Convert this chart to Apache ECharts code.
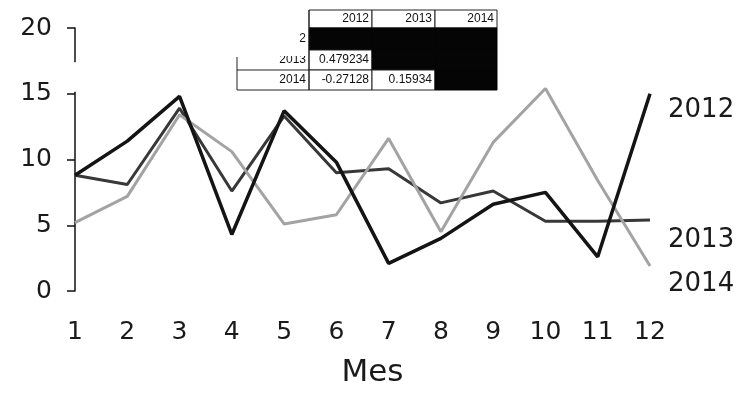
<!DOCTYPE html>
<html>
<head>
<meta charset="utf-8">
<script src="https://cdn.jsdelivr.net/npm/echarts@6/dist/echarts.min.js"></script>
<style>
html,body{margin:0;padding:0;background:#fff;}
#chart{width:745px;height:393px;}
</style>
</head>
<body>
<div id="chart"></div>
<script>
// ---- data ----
const months = ['1','2','3','4','5','6','7','8','9','10','11','12'];
const yTicks = [0, 5, 10, 15, 20];
const s2012 = [8.8, 11.4, 14.8, 4.3, 13.7, 9.8, 2.1, 4.0, 6.6, 7.5, 2.6, 15.0];
const s2013 = [8.8, 8.1, 13.9, 7.6, 13.3, 9.0, 9.3, 6.7, 7.6, 5.3, 5.3, 5.4];
const s2014 = [5.2, 7.2, 13.4, 10.6, 5.1, 5.8, 11.6, 4.5, 11.3, 15.4, 8.4, 1.9];
const seriesNames = ['2012', '2013', '2014'];
// correlation table
const corrHeaders = ['2012', '2013', '2014'];
const corrRows = ['2012', '2013', '2014'];
const corrValues = [
  [null, null, null],
  ['0.479234', null, null],
  ['-0.27128', '0.15934', null]
];

const chart = echarts.init(document.getElementById('chart'));
const FONT = 'DejaVu Sans';

function mkSeries(name, data, color, width, dy) {
  return {
    name: name, type: 'line', data: data, symbol: 'none',
    lineStyle: {color: color, width: width},
    endLabel: {show: true, formatter: name, color: '#1a1a1a', fontSize: 26,
      fontFamily: FONT, distance: 18, offset: [0, dy]},
    z: name === '2012' ? 4 : 3
  };
}

// table graphic
function buildTable() {
  const colX = [309, 372, 435, 497];
  const labelX = 237;
  const rowY = [[28, 50], [50, 70], [70, 90]];
  const headY = [10, 28];
  const els = [];
  const tf = {fontSize: 12, fontFamily: 'Liberation Sans', fill: '#111'};
  corrHeaders.forEach((h, j) => {
    els.push({type: 'rect', shape: {x: colX[j], y: headY[0], width: colX[j+1]-colX[j], height: headY[1]-headY[0]},
      style: {fill: '#fff', stroke: '#222', lineWidth: 1}});
    els.push({type: 'text', x: colX[j+1]-3, y: (headY[0]+headY[1])/2,
      style: Object.assign({text: h, align: 'right', verticalAlign: 'middle'}, tf)});
  });
  corrRows.forEach((r, i) => {
    const y0 = rowY[i][0], y1 = rowY[i][1];
    corrValues[i].forEach((v, j) => {
      if (v === null) {
        els.push({type: 'rect', shape: {x: colX[j], y: y0, width: colX[j+1]-colX[j], height: y1-y0},
          style: {fill: '#050505', stroke: '#050505', lineWidth: 1}});
      } else {
        els.push({type: 'rect', shape: {x: colX[j], y: y0, width: colX[j+1]-colX[j], height: y1-y0},
          style: {fill: '#fff', stroke: '#222', lineWidth: 1}});
        els.push({type: 'text', x: colX[j+1]-3, y: (y0+y1)/2,
          style: Object.assign({text: v, align: 'right', verticalAlign: 'middle'}, tf)});
      }
    });
    els.push({type: 'text', x: colX[0]-3, y: (y0+y1)/2,
      style: Object.assign({text: r, align: 'right', verticalAlign: 'middle'}, tf)});
  });
  els.push({type: 'line', shape: {x1: labelX, y1: 57, x2: labelX, y2: 90}, style: {stroke: '#222', lineWidth: 1}});
  els.push({type: 'line', shape: {x1: labelX, y1: 70, x2: colX[0], y2: 70}, style: {stroke: '#222', lineWidth: 1}});
  els.push({type: 'line', shape: {x1: labelX, y1: 90, x2: colX[0], y2: 90}, style: {stroke: '#222', lineWidth: 1}});
  els.push({type: 'line', shape: {x1: colX[0], y1: 10, x2: colX[0], y2: 90}, style: {stroke: '#222', lineWidth: 1}});
  els.push({type: 'rect', shape: {x: labelX-2, y: 28, width: colX[0]-labelX-7, height: 22}, style: {fill: '#fff'}});
  els.push({type: 'rect', shape: {x: labelX-2, y: 50, width: colX[0]-labelX-1, height: 6}, style: {fill: '#fff'}});
  return els;
}

chart.setOption({
  animation: false,
  backgroundColor: '#fff',
  grid: {left: 75, right: 95, top: 28, bottom: 91},
  xAxis: {
    type: 'category', data: months, boundaryGap: false,
    name: 'Mes', nameLocation: 'middle', nameGap: 66,
    nameTextStyle: {fontSize: 31, color: '#1a1a1a', fontFamily: FONT, padding: [0, 0, 0, 20]},
    axisLine: {show: false}, axisTick: {show: false},
    axisLabel: {fontSize: 25, color: '#1a1a1a', fontFamily: FONT, margin: 29}
  },
  yAxis: {
    type: 'value', min: yTicks[0], max: yTicks[yTicks.length-1], interval: 5,
    axisLine: {show: true, lineStyle: {color: '#111', width: 1.5}},
    axisTick: {show: true, inside: false, length: 8, lineStyle: {color: '#111', width: 1.5}},
    splitLine: {show: false},
    axisLabel: {fontSize: 25, color: '#1a1a1a', fontFamily: FONT, margin: 23}
  },
  series: [
    mkSeries(seriesNames[0], s2012, '#141414', 3.5, 16),
    mkSeries(seriesNames[1], s2013, '#383838', 3, 20),
    mkSeries(seriesNames[2], s2014, '#a3a3a3', 3, 18)
  ],
  graphic: buildTable()
});

// gap in the y axis line as in the reference
const yA = chart.convertToPixel({yAxisIndex: 0}, 17.4);
const yB = chart.convertToPixel({yAxisIndex: 0}, 15.15);
const x0 = chart.convertToPixel({xAxisIndex: 0}, 0);
const els = buildTable();
els.push({type: 'rect', shape: {x: x0-3, y: yA, width: 6, height: yB-yA}, style: {fill: '#fff'}, z: 100});
chart.setOption({graphic: els}, {replaceMerge: ['graphic']});
</script>
</body>
</html>
